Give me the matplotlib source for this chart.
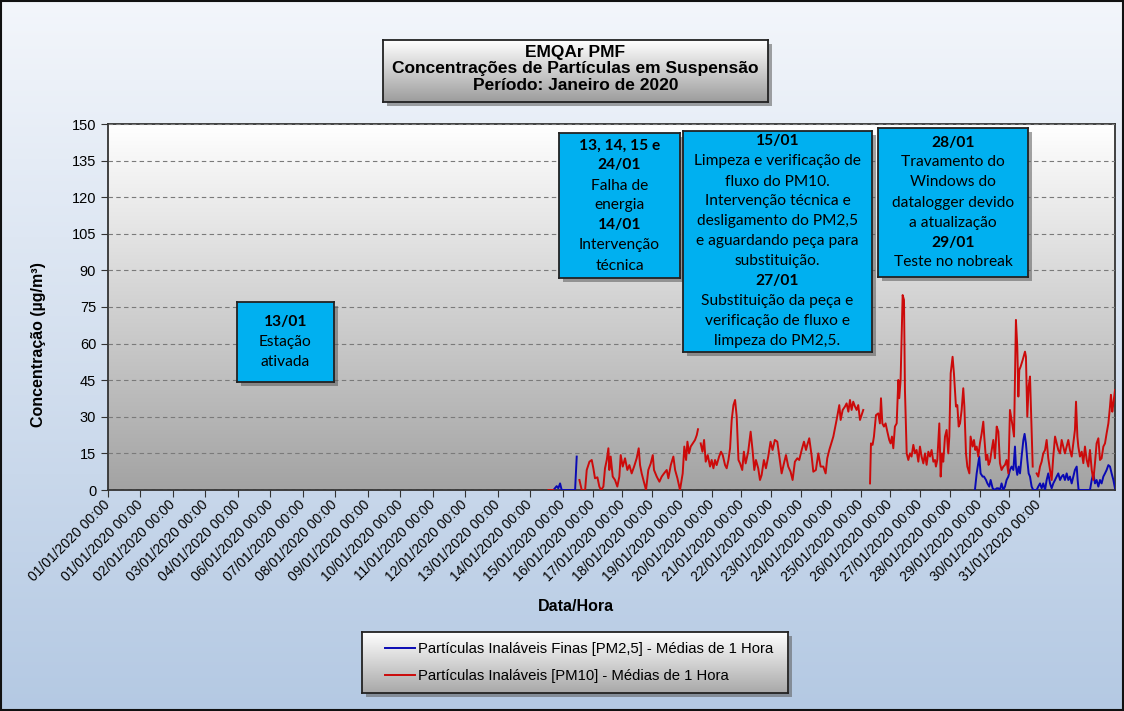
import numpy as np
import matplotlib
matplotlib.use("Agg")
import matplotlib.pyplot as plt
from matplotlib.patches import Rectangle
from matplotlib.lines import Line2D
from matplotlib.colors import LinearSegmentedColormap

plt.rcParams['font.family'] = ['Liberation Sans', 'DejaVu Sans']

# ---- data (hour of January 2020 on the category axis, concentration in ug/m3)
nan = np.nan
tick_days = [1, 1, 2, 3, 4] + list(range(6, 32))
tick_labels = ["%02d/01/2020 00:00" % d for d in tick_days]
tick_hours = [0, 24, 48, 72, 96, 120, 144, 168, 192, 216, 240, 264, 288, 312, 336,
              358, 380, 402, 424, 446, 468, 490, 512, 534, 556, 578, 600, 622, 644, 666, 688]

pm25_hours = [329.1, 331.5, 332.7, 334.0, 335.2, 345.1, 346.3, 347.0,
              640.5, 641.8, 643.7, 644.7, 646.2, 647.2, 648.7, 649.7, 651.1, 652.1,
              653.6, 655.3, 656.6, 657.8, 659.0, 660.2, 661.5, 662.7, 663.9, 665.2,
              666.4, 667.6, 668.9, 670.1, 670.8, 671.8, 672.8, 673.8, 675.0, 676.3,
              677.2, 678.2, 679.2, 680.2, 681.2, 682.4, 683.6, 686.1, 687.3, 688.6,
              689.8, 691.0, 692.3, 693.5, 694.7, 696.0, 697.2, 698.4, 699.7, 700.9,
              702.1, 703.4, 704.6, 705.8, 707.0, 708.3, 709.5, 710.7, 712.0, 713.2,
              714.4, 715.7, 716.4, 717.1, 725.5, 726.8, 728.0, 729.2, 730.4, 731.7,
              732.9, 734.1, 735.4, 736.6, 737.8, 739.1, 740.3, 741.5, 742.8, 744.0]
pm25_values = [0, 1.6, 0.7, 2.7, 0, 0, 13.7, nan,
               0, 6.8, 13.7, 6.8, 5.5, 5.5, 4.1, 2.7, 1.4, 4.1,
               0.7, 0, 0.7, 0.7, 0, 2.7, 0, 1.4, 4.1, 5.5,
               8.2, 9.6, 8.2, 17.8, 9.6, 6.2, 9.6, 6.8, 13.7, 20.5,
               23.0, 19.1, 12.3, 6.8, 5.5, 1.4, 0, 0, 1.4, 2.7,
               0.7, 2.7, 0, 4.1, 6.8, 2.7, 0.7, 2.7, 4.1, 5.5,
               6.8, 4.1, 5.5, 6.2, 4.1, 6.8, 4.1, 5.5, 2.7, 5.5,
               8.2, 9.6, 4.1, 0, 0, 4.1, 6.8, 2.7, 4.1, 1.4,
               4.1, 2.7, 5.5, 6.8, 8.2, 10.2, 9.6, 6.8, 4.1, 0.7]

pm10_hours = [325.4, 329.1, 330.0,
              348.3, 350.0, 352.5, 353.7, 355.7, 357.4, 358.6, 359.8, 361.6, 363.0,
              364.3, 366.0, 367.2, 368.5, 369.7, 370.4, 371.4, 372.9, 374.6, 376.3,
              377.8, 378.8, 380.3, 382.0, 383.7, 385.2, 386.9, 388.7, 390.6, 392.1,
              393.1, 394.3, 395.6, 397.5, 399.2, 401.0, 402.5, 403.4, 405.4, 407.4,
              409.1, 410.8, 412.8, 414.0, 415.8, 417.7, 419.0, 420.7, 422.6, 424.6,
              425.8, 427.1, 428.1, 429.3, 430.5, 432.0, 433.7, 435.0, 435.9, 436.9,
              437.9, 439.2, 440.4, 441.6, 443.1, 444.8, 446.0, 447.3, 448.5, 449.7,
              451.5, 452.9, 454.2, 455.9, 457.1, 458.4, 459.6, 460.8, 462.1, 463.3,
              464.5, 465.8, 467.0, 468.6, 469.8, 471.1, 473.0, 474.8, 476.2, 477.5,
              478.7, 480.4, 481.7, 482.9, 484.6, 486.1, 487.8, 489.5, 491.0, 492.7,
              494.5, 496.0, 497.7, 499.4, 500.9, 502.6, 504.3, 505.8, 507.5, 509.3,
              510.7, 512.5, 514.2, 515.7, 516.6, 518.1, 519.8, 521.1, 523.0, 524.8,
              526.5, 528.5, 530.2, 531.4, 532.9, 535.9, 538.3, 540.3, 541.3, 542.8,
              544.5, 545.7, 547.0, 548.2, 549.4, 550.6, 551.9, 553.1, 554.3, 555.6,
              556.8, 558.0, 560.0,
              563.0, 563.7, 564.9, 565.9, 567.4, 569.1, 570.3, 571.1, 572.1, 573.3,
              574.5, 575.8, 577.2, 578.2, 579.2, 580.2, 581.4, 582.7, 583.9, 584.6,
              585.6, 587.1, 588.1, 588.8, 590.1, 591.3, 592.5, 593.7, 595.0, 596.2,
              597.4, 598.7, 599.9, 601.1, 602.4, 603.6, 604.8, 606.1, 607.3, 608.5,
              609.8, 611.0, 611.7, 612.7, 614.2, 615.2, 616.2, 617.1, 618.4, 619.6,
              620.8, 621.6, 622.6, 624.0, 625.0, 626.5, 627.5, 628.5, 629.5, 630.7,
              631.9, 632.7, 633.9, 634.9, 636.4, 637.3, 638.8, 639.8, 640.8, 641.8,
              643.0, 644.2, 645.5, 646.7, 647.4, 648.7, 649.7, 650.6, 651.6, 652.9,
              654.1, 655.3, 656.6, 657.8, 659.0, 660.2, 661.5, 662.7, 663.9, 665.2,
              666.4, 667.6, 668.4, 669.4, 670.8, 671.8, 672.6, 673.3, 674.3, 675.8,
              677.5, 678.2, 679.2, 680.2, 681.2, 682.4, 683.2, 684.5,
              686.1, 687.3, 688.6, 689.8, 691.0, 692.3, 693.5, 694.7, 696.0, 697.2,
              698.4, 699.7, 700.9, 702.1, 703.4, 704.6, 705.8, 707.0, 708.3, 709.5,
              710.7, 712.0, 713.2, 714.4, 715.2, 716.2, 716.9, 718.1, 719.4, 720.6,
              721.8, 723.1, 724.3, 725.5, 726.8, 728.0, 729.2, 730.4, 731.7, 732.9,
              734.1, 735.4, 736.6, 737.8, 739.1, 740.3, 741.0, 742.0, 742.8, 744.0]
pm10_values = [0, 0, nan,
               4.1, 0, 0, 8.2, 11.6, 12.3, 8.9, 4.8, 5.2, 1.4,
               0, 1.4, 8.9, 12.3, 17.1, 8.2, 13.7, 5.5, 4.1, 1.4,
               5.5, 14.3, 9.6, 13.0, 8.2, 10.2, 6.8, 9.6, 13.0, 17.1,
               10.2, 6.8, 4.1, 0, 8.2, 10.9, 14.3, 8.2, 5.5, 3.4,
               5.5, 6.8, 8.2, 4.8, 10.2, 13.7, 8.2, 4.8, 0, 6.8,
               17.8, 12.3, 19.8, 15.0, 17.8, 19.1, 20.5, 22.5, 24.9, nan,
               19.1, 15.7, 20.5, 11.6, 14.3, 9.6, 12.3, 8.9, 12.3, 10.2,
               13.7, 15.7, 14.3, 10.2, 8.9, 12.3, 17.1, 28.7, 34.8, 36.9,
               30.1, 12.3, 10.9, 8.2, 15.7, 10.9, 15.7, 23.9, 16.4, 8.2,
               12.3, 8.9, 4.1, 6.1, 12.3, 8.9, 13.7, 19.8, 16.4, 20.5,
               19.8, 13.7, 6.8, 10.9, 14.3, 9.6, 7.5, 4.1, 11.6, 13.0,
               12.3, 16.4, 19.8, 16.4, 18.4, 21.2, 14.3, 7.5, 8.2, 15.0,
               9.6, 9.6, 6.8, 13.0, 16.4, 21.9, 28.7, 34.8, 28.7, 32.8,
               34.2, 35.5, 32.1, 36.9, 32.8, 36.2, 34.2, 32.8, 34.8, 28.7,
               30.7, 32.8, nan,
               2.7, 19.1, 18.5, 21.9, 30.7, 31.4, 27.3, 37.6, 27.3, 26.0,
               27.3, 23.9, 20.5, 19.1, 21.9, 17.1, 26.0, 27.3, 45.1, 37.6,
               45.1, 79.9, 77.9, 41.0, 15.0, 12.3, 15.0, 13.7, 18.5, 15.0,
               16.4, 11.6, 17.8, 13.7, 10.9, 15.0, 10.3, 15.7, 13.7, 16.4,
               11.6, 12.3, 9.6, 12.3, 27.3, 5.5, 15.0, 11.6, 21.9, 24.6,
               15.0, 21.9, 47.8, 54.6, 47.8, 34.2, 34.8, 26.0, 27.3, 32.8,
               41.7, 34.2, 15.0, 9.6, 6.8, 21.9, 17.8, 20.5, 16.4, 17.8,
               13.7, 19.1, 23.2, 28.0, 21.9, 12.3, 14.4, 10.3, 11.6, 16.4,
               20.5, 13.0, 26.0, 23.9, 11.0, 8.2, 9.6, 10.3, 12.3, 6.8,
               32.8, 28.7, 26.0, 21.9, 69.7, 58.8, 38.3, 49.2, 50.6, 53.3,
               56.7, 54.6, 30.1, 42.4, 46.5, 24.6, 9.6, nan,
               6.8, 5.5, 9.6, 11.6, 15.0, 16.4, 20.5, 13.0, 8.2, 4.1,
               13.7, 21.9, 19.1, 16.4, 15.0, 20.5, 17.8, 15.0, 17.8, 20.5,
               16.4, 13.7, 19.1, 24.6, 36.2, 21.9, 17.8, 13.7, 15.7, 11.0,
               17.8, 12.3, 9.6, 16.4, 8.2, 4.1, 11.0, 19.1, 21.2, 12.3,
               13.0, 17.8, 19.1, 23.2, 27.3, 34.2, 39.0, 32.1, 35.5, 41.0]

series_labels = ["Partículas Inaláveis Finas [PM2,5] - Médias de 1 Hora",
                 "Partículas Inaláveis [PM10] - Médias de 1 Hora"]
title_lines = ["EMQAr PMF", "Concentrações de Partículas em Suspensão",
               "Período: Janeiro de 2020"]

# note boxes: (left, top, right, bottom) in pixels, then (text, bold) lines
notes = [
    ((237, 302, 334, 382), [("13/01", True), ("Estação", False), ("ativada", False)]),
    ((559, 133, 680, 278), [("13, 14, 15 e", True), ("24/01", True), ("Falha de", False),
                            ("energia", False), ("14/01", True), ("Intervenção", False),
                            ("técnica", False)]),
    ((683, 131, 872, 352), [("15/01", True), ("Limpeza e verificação de", False),
                            ("fluxo do PM10.", False), ("Intervenção técnica e", False),
                            ("desligamento do PM2,5", False), ("e aguardando peça para", False),
                            ("substituição.", False), ("27/01", True),
                            ("Substituição da peça e", False), ("verificação de fluxo e", False),
                            ("limpeza do PM2,5.", False)]),
    ((878, 128, 1028, 277), [("28/01", True), ("Travamento do", False), ("Windows do", False),
                             ("datalogger devido", False), ("a atualização", False),
                             ("29/01", True), ("Teste no nobreak", False)]),
]

W, H = 1124, 711
fig = plt.figure(figsize=(W / 100, H / 100), dpi=100)


def frect(x0, y0, x1, y1):
    # pixel box (y down) -> figure rect
    return [x0 / W, 1 - y1 / H, (x1 - x0) / W, (y1 - y0) / H]


def gradient(axx, top, bottom, z=0):
    cmap = LinearSegmentedColormap.from_list("g", [bottom, top])
    axx.imshow(np.linspace(1, 0, 256).reshape(-1, 1), cmap=cmap, aspect="auto",
               extent=(0, 1, 0, 1), transform=axx.transAxes, zorder=z,
               interpolation="bilinear")


def shadow(x0, y0, x1, y1, z):
    r = frect(x0 + 4, y0 + 4, x1 + 4, y1 + 4)
    fig.add_artist(Rectangle((r[0], r[1]), r[2], r[3], transform=fig.transFigure,
                             facecolor="#5a5a5a", edgecolor="none", alpha=0.55, zorder=z))


def box_axes(x0, y0, x1, y1, z):
    shadow(x0, y0, x1, y1, z - 0.5)
    bax = fig.add_axes(frect(x0, y0, x1, y1), zorder=z)
    bax.set_xticks([])
    bax.set_yticks([])
    for s in bax.spines.values():
        s.set_color("#222222")
        s.set_linewidth(1.3)
    return bax


# figure background
bg = fig.add_axes([0, 0, 1, 1], zorder=0)
gradient(bg, "#f3f6fb", "#b4c9e3")
bg.set_xlim(0, 1)
bg.set_ylim(0, 1)
bg.axis("off")
fig.add_artist(Rectangle((0.001, 0.001), 0.998, 0.998, transform=fig.transFigure,
                         fill=False, edgecolor="#111111", linewidth=1.5, zorder=20))

# main plot
ax = fig.add_axes(frect(108, 124, 1115, 490), zorder=1)
gradient(ax, "#ffffff", "#a3a3a3")
ax.set_axisbelow(False)
ax.yaxis.grid(True, linestyle=(0, (4, 3)), color="#7a7a7a", linewidth=0.8, zorder=1)
ax.plot(pm25_hours, pm25_values, color="#0a0ab4", linewidth=1.4, zorder=3)
ax.plot(pm10_hours, pm10_values, color="#cc0a0a", linewidth=1.4, zorder=3)
ax.set_xlim(0, 744)
ax.set_ylim(0, 150)
ax.set_yticks(np.arange(0, 151, 15))
ax.set_xticks(tick_hours)
ax.set_xticklabels(tick_labels, rotation=45, ha="right", va="center",
                   rotation_mode="anchor", fontsize=10)
ax.tick_params(axis="y", labelsize=10.5, direction="out", length=5, color="#333333")
ax.tick_params(axis="x", direction="out", length=5, color="#333333", pad=4)
for s in ax.spines.values():
    s.set_color("#333333")
    s.set_linewidth(1.3)
ax.set_ylabel("Concentração (µg/m³)", fontsize=11.5, fontweight="bold")
ax.yaxis.set_label_coords((46 - 108) / 1007, (490 - 345) / 366)
ax.set_xlabel("Data/Hora", fontsize=11.5, fontweight="bold")
ax.xaxis.set_label_coords((576 - 108) / 1007, -(599 - 490) / 366)

# title box
tax = box_axes(383, 40, 768, 102, 5)
gradient(tax, "#ffffff", "#9c9c9c")
for i, t in enumerate(title_lines):
    tax.text(0.5, 1 - (12 + 17 * i) / 62, t, transform=tax.transAxes, ha="center",
             va="center", fontsize=12.5, fontweight="bold")

# note boxes
for k, ((x0, y0, x1, y1), lines) in enumerate(notes):
    nax = box_axes(x0, y0, x1, y1, 6 + k)
    nax.set_facecolor("#00b0f0")
    step = 20 / (y1 - y0)
    n = len(lines)
    for i, (t, bold) in enumerate(lines):
        nax.text(0.5, 0.5 + (n - 1) / 2 * step - i * step, t, transform=nax.transAxes,
                 ha="center", va="center", fontsize=11.2, family=["Lato", "DejaVu Sans"],
                 fontweight="bold" if bold else "normal", color="#000000")

# legend box
lax = box_axes(362, 632, 788, 693, 12)
gradient(lax, "#ffffff", "#a8a8a8")
handles = [Line2D([], [], color="#0a0ab4", linewidth=1.4),
           Line2D([], [], color="#cc0a0a", linewidth=1.4)]
lax.legend(handles, series_labels, loc="center", frameon=False, fontsize=10.7,
           handlelength=2.0, handletextpad=0.2, labelspacing=0.9,
           bbox_to_anchor=(0.51, 0.5))

fig.savefig("out.png", dpi=100)
